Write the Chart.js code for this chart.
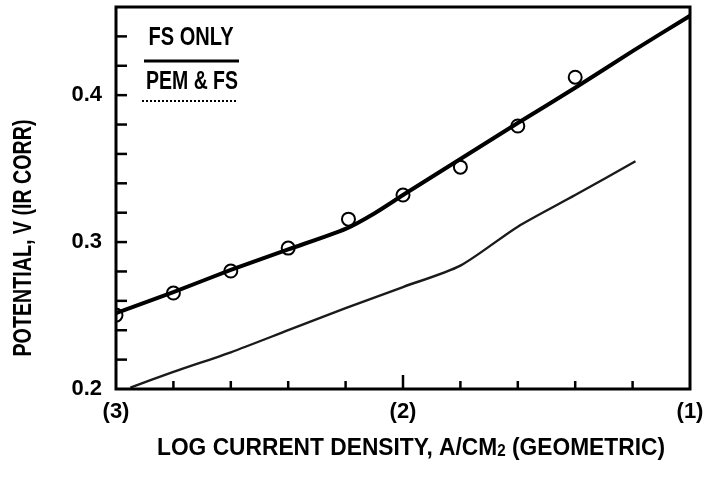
<!DOCTYPE html>
<html>
<head>
<meta charset="utf-8">
<script src="https://cdn.jsdelivr.net/npm/chart.js@4.4.1/dist/chart.umd.min.js"></script>
<style>
  body { margin: 0; background: #fff; }
  canvas { display: block; }
</style>
</head>
<body>
<canvas id="polChart" width="716" height="478"></canvas>
<script>
// log current density (decades) and potential values
const fsLineX = [-3.0, -2.8, -2.6, -2.4, -2.2, -2.1, -2.0, -1.8, -1.6, -1.4, -1.2, -1.0];
const fsLineY = [0.2517, 0.266, 0.281, 0.295, 0.309, 0.3195, 0.332, 0.3565, 0.381, 0.405, 0.430, 0.454];

const fsPointX = [-3.0, -2.8, -2.6, -2.4, -2.19, -2.0, -1.8, -1.6, -1.4];
const fsPointY = [0.2503, 0.2653, 0.2803, 0.2959, 0.3156, 0.332, 0.351, 0.379, 0.4122];

const pemX = [-2.95, -2.8, -2.6, -2.4, -2.2, -2.0, -1.8, -1.6, -1.4, -1.19];
const pemY = [0.201, 0.2116, 0.225, 0.240, 0.255, 0.2694, 0.284, 0.3105, 0.332, 0.355];

const xTickLabels = { '-3': '(3)', '-2': '(2)', '-1': '(1)' };
const yTickLabels = { '0.2': '0.2', '0.3': '0.3', '0.4': '0.4' };

const legendNames = ['FS ONLY', 'PEM & FS'];
const xTitle = ['LOG CURRENT DENSITY, A/CM', '2', ' (GEOMETRIC)'];
const yTitle = 'POTENTIAL, V (IR CORR)';

const FAMILY = "'Liberation Sans', Arial, sans-serif";

function pts(xs, ys) {
  return xs.map((x, i) => ({ x: x, y: ys[i] }));
}

// draws text pieces squeezed to a given width
function fitText(ctx, parts, cx, cy, width) {
  let total = 0;
  parts.forEach(p => { ctx.font = p.font; total += ctx.measureText(p.text).width; });
  const sx = width / total;
  ctx.save();
  ctx.translate(cx - width / 2, cy);
  ctx.scale(sx, 1);
  ctx.textBaseline = 'middle';
  ctx.textAlign = 'left';
  let x = 0;
  parts.forEach(p => {
    ctx.font = p.font;
    ctx.fillText(p.text, x, p.dy || 0);
    x += ctx.measureText(p.text).width;
  });
  ctx.restore();
}

const decor = {
  id: 'decor',
  afterDraw(chart) {
    const ctx = chart.ctx;
    const a = chart.chartArea;
    const xs = chart.scales.x, ys = chart.scales.y;
    ctx.save();
    ctx.fillStyle = '#000';
    ctx.strokeStyle = '#000';

    // frame
    ctx.lineWidth = 3;
    ctx.strokeRect(a.left, a.top, a.right - a.left, a.bottom - a.top);

    // inward ticks
    ctx.lineWidth = 2.5;
    ys.ticks.forEach(t => {
      const p = ys.getPixelForValue(t.value);
      if (p <= a.top + 2 || p >= a.bottom - 2) return;
      ctx.beginPath();
      ctx.moveTo(a.left, p);
      ctx.lineTo(a.left + 11, p);
      ctx.stroke();
    });
    xs.ticks.forEach(t => {
      const p = xs.getPixelForValue(t.value);
      if (p <= a.left + 2 || p >= a.right - 2) return;
      const len = Math.abs(t.value + 2) < 1e-6 ? 14 : 8;
      ctx.beginPath();
      ctx.moveTo(p, a.bottom);
      ctx.lineTo(p, a.bottom - len);
      ctx.stroke();
    });

    // legend
    const lx = a.left;
    fitText(ctx, [{ text: legendNames[0], font: 'bold 25px ' + FAMILY }], lx + 75, 38, 85);
    ctx.lineWidth = 3;
    ctx.beginPath();
    ctx.moveTo(lx + 28, 61);
    ctx.lineTo(lx + 123, 61);
    ctx.stroke();
    fitText(ctx, [{ text: legendNames[1], font: 'bold 25px ' + FAMILY }], lx + 76, 82, 92);
    ctx.lineWidth = 2;
    ctx.setLineDash([2, 2]);
    ctx.beginPath();
    ctx.moveTo(lx + 26, 101);
    ctx.lineTo(lx + 121, 101);
    ctx.stroke();
    ctx.setLineDash([]);

    // axis titles
    fitText(ctx, [
      { text: xTitle[0], font: 'bold 24px ' + FAMILY },
      { text: xTitle[1], font: 'bold 16px ' + FAMILY, dy: 4 },
      { text: xTitle[2], font: 'bold 24px ' + FAMILY }
    ], 411, 448, 508);

    ctx.save();
    ctx.translate(24, 238);
    ctx.rotate(-Math.PI / 2);
    fitText(ctx, [{ text: yTitle, font: 'bold 25px ' + FAMILY }], 0, 0, 237);
    ctx.restore();

    ctx.restore();
  }
};

const tickFont = { family: FAMILY, size: 22, weight: 'bold' };

new Chart(document.getElementById('polChart'), {
  type: 'line',
  data: {
    datasets: [{
      label: 'FS ONLY data',
      data: pts(fsPointX, fsPointY),
      showLine: false,
      pointRadius: 6.5,
      pointBorderWidth: 2,
      pointBorderColor: '#000',
      pointBackgroundColor: 'rgba(0,0,0,0)'
    }, {
      label: 'FS ONLY',
      data: pts(fsLineX, fsLineY),
      borderColor: '#000',
      borderWidth: 4,
      pointRadius: 0,
      tension: 0.25
    }, {
      label: 'PEM & FS',
      data: pts(pemX, pemY),
      borderColor: '#1a1a1a',
      borderWidth: 2.4,
      pointRadius: 0,
      tension: 0.25
    }]
  },
  plugins: [decor],
  options: {
    responsive: false,
    animation: false,
    devicePixelRatio: 1,
    layout: { autoPadding: false, padding: { top: 7, right: 26, left: 0, bottom: 0 } },
    plugins: { legend: { display: false }, tooltip: { enabled: false } },
    scales: {
      x: {
        type: 'linear',
        min: -3,
        max: -1,
        afterFit: s => { s.height = 89; s.paddingLeft = 0; s.paddingRight = 0; },
        border: { display: false },
        grid: { drawOnChartArea: false, drawTicks: false },
        ticks: {
          stepSize: 0.2,
          autoSkip: false,
          maxRotation: 0,
          padding: 10,
          color: '#000',
          font: tickFont,
          callback: v => xTickLabels[String(Math.round(v * 10) / 10)] || ''
        }
      },
      y: {
        min: 0.2,
        max: 0.46,
        afterFit: s => { s.width = 116; s.paddingTop = 0; s.paddingBottom = 0; },
        border: { display: false },
        grid: { drawOnChartArea: false, drawTicks: false },
        ticks: {
          stepSize: 0.02,
          autoSkip: false,
          padding: 14,
          color: '#000',
          font: tickFont,
          callback: v => yTickLabels[String(Math.round(v * 100) / 100)] || ''
        }
      }
    }
  }
});
</script>
</body>
</html>
